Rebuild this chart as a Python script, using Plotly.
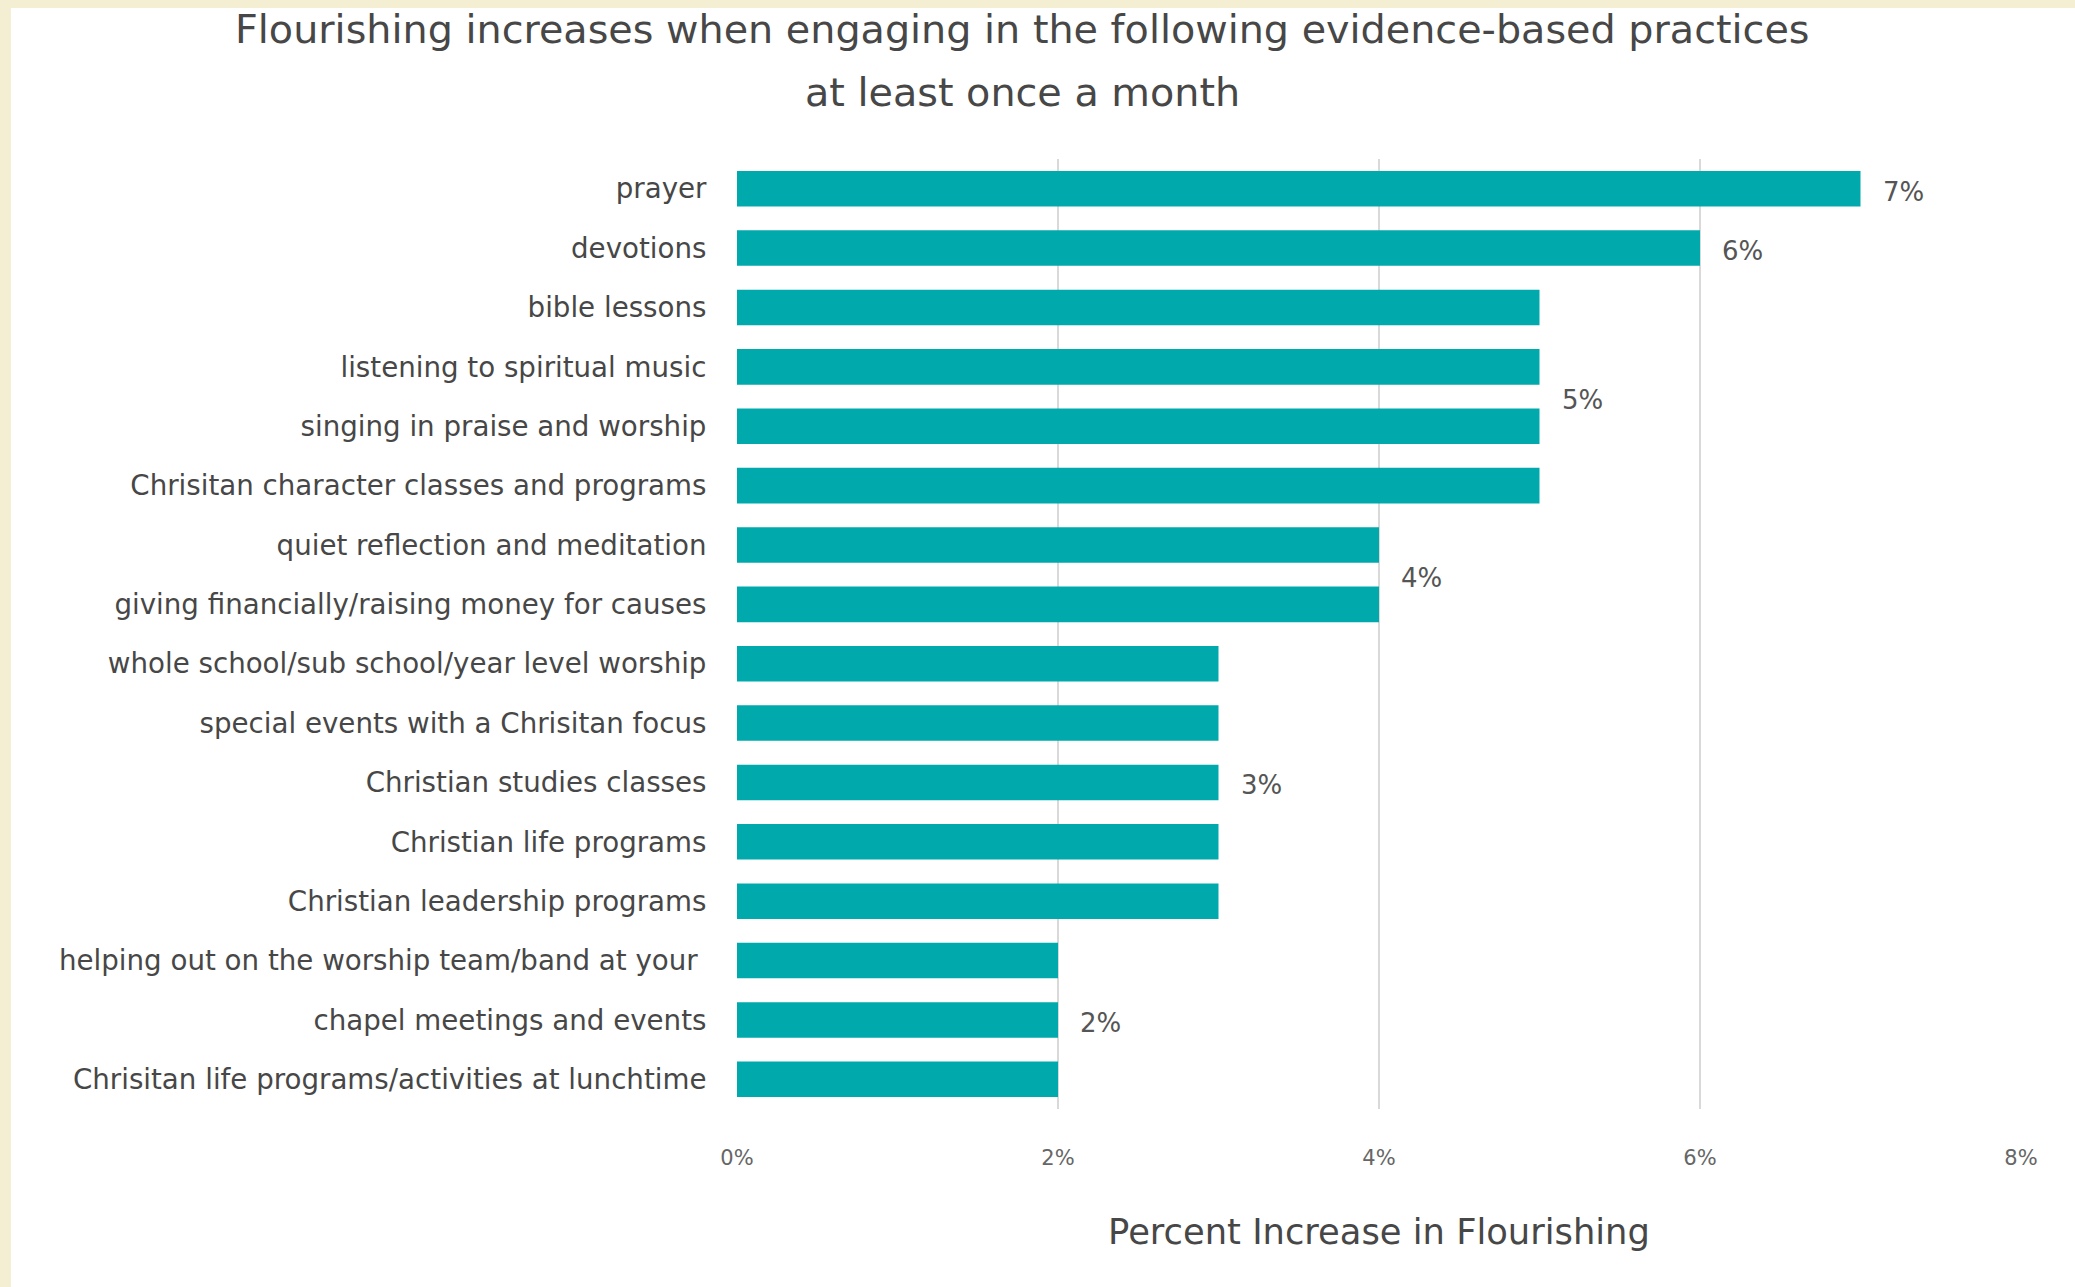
import plotly.graph_objects as go

categories = [
    "prayer",
    "devotions",
    "bible lessons",
    "listening to spiritual music",
    "singing in praise and worship",
    "Chrisitan character classes and programs",
    "quiet reflection and meditation",
    "giving financially/raising money for causes",
    "whole school/sub school/year level worship",
    "special events with a Chrisitan focus",
    "Christian studies classes",
    "Christian life programs",
    "Christian leadership programs",
    "helping out on the worship team/band at your\u00a0",
    "chapel meetings and events",
    "Chrisitan life programs/activities at lunchtime",
]
values = [7, 6, 5, 5, 5, 5, 4, 4, 3, 3, 3, 3, 3, 2, 2, 2]
tick_vals = [0, 2, 4, 6, 8]
tick_text = ["0%", "2%", "4%", "6%", "8%"]
title_lines = [
    "Flourishing increases when engaging in the following evidence-based practices",
    "at least once a month",
]
x_title = "Percent Increase in Flourishing"

W, H = 2075, 1287
L, R, T, B = 737, 54, 159, 178
PW, PH = W - L - R, H - T - B

def px_x(p):
    return (p - L) / PW

def px_y(p):
    return (H - B - p) / PH

FONT = "DejaVu Sans"
TEXT = "#474747"
TEAL = "#00A9AC"

fig = go.Figure(
    go.Bar(
        x=values,
        y=categories,
        orientation="h",
        marker=dict(color=TEAL, line=dict(width=0)),
        hoverinfo="x+y",
    )
)

# group labels: one label per run of equal values, centred on the run
annotations = []
i = 0
while i < len(values):
    j = i
    while j + 1 < len(values) and values[j + 1] == values[i]:
        j += 1
    annotations.append(
        dict(
            x=values[i], y=(i + j) / 2, xref="x", yref="y",
            text=f"{values[i]}%", showarrow=False,
            xanchor="left", yanchor="middle", xshift=20, yshift=-3,
            font=dict(family=FONT, size=26, color="#555555"),
        )
    )
    i = j + 1

title_y = [29, 92]
for line, py in zip(title_lines, title_y):
    annotations.append(
        dict(
            x=px_x(1022), y=px_y(py), xref="paper", yref="paper",
            text=line, showarrow=False, xanchor="center", yanchor="middle",
            font=dict(family=FONT, size=39.7, color=TEXT),
        )
    )

shapes = [
    dict(
        type="rect", xref="paper", yref="paper", layer="below",
        x0=px_x(11), x1=px_x(W + 5), y0=px_y(H + 5), y1=px_y(8),
        fillcolor="white", line=dict(width=0),
    )
]

fig.update_layout(
    width=W, height=H,
    margin=dict(l=L, r=R, t=T, b=B, pad=0, autoexpand=False),
    paper_bgcolor="#F4EED3",
    plot_bgcolor="rgba(0,0,0,0)",
    bargap=0.4,
    showlegend=False,
    annotations=annotations,
    shapes=shapes,
    font=dict(family=FONT, color=TEXT),
    xaxis=dict(
        range=[0, 8], tickvals=tick_vals, ticktext=tick_text,
        showgrid=True, gridcolor="#D9D9D9", gridwidth=1.5,
        zeroline=False, showline=False,
        ticks="outside", ticklen=30, tickcolor="rgba(0,0,0,0)",
        tickfont=dict(family=FONT, size=21, color="#666666"),
        title=dict(text=x_title, standoff=50,
                   font=dict(family=FONT, size=35.3, color=TEXT)),
        fixedrange=True,
    ),
    yaxis=dict(
        range=[len(categories) - 0.5, -0.5],
        showgrid=False, zeroline=False, showline=False,
        ticks="outside", ticklen=24, tickcolor="rgba(0,0,0,0)",
        tickfont=dict(family=FONT, size=27.7, color=TEXT),
        fixedrange=True,
    ),
)

fig.write_html(
    "out.html",
    config={"displayModeBar": False},
    post_script="document.body.style.margin='0';document.body.style.overflow='hidden';",
)
